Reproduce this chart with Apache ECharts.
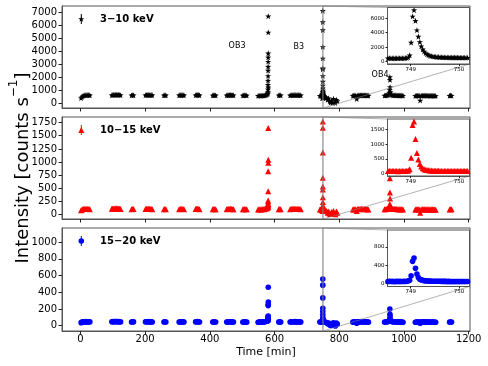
<!DOCTYPE html>
<html><head><meta charset="utf-8">
<script src="https://cdn.jsdelivr.net/npm/echarts@6/dist/echarts.min.js"></script>
<style>html,body{margin:0;padding:0;background:#fff}#c{width:488px;height:366px}</style>
</head><body><div id="c"></div>
<script>
// ---------------- DATA ----------------
const bandLabels = ['3\u221210 keV', '10\u221215 keV', '15\u221220 keV'];
const xTickValues = [0, 200, 400, 600, 800, 1000, 1200];
const yTicks3to10 = [0, 1000, 2000, 3000, 4000, 5000, 6000, 7000];
const yTicks10to15 = [0, 250, 500, 750, 1000, 1250, 1500, 1750];
const yTicks15to20 = [0, 200, 400, 600, 800, 1000];
const insetYTicks3to10 = [0, 2000, 4000, 6000];
const insetYTicks10to15 = [0, 500, 1000, 1500];
const insetYTicks15to20 = [0, 400, 800];
const insetXTicks = [749, 750];
const eventLabels = ['OB3', 'B3', 'OB4'];
const eventTime = [484, 675, 926];
const eventLevel = [4400, 4340, 2210];

// time of each main-panel sample [min]
const timeMin = [
  2,5,8,11,14,17,20,23,26,29,
  97,100,103,106,109,112,115,118,121,124,
  158,161,164,
  201,204,207,210,213,216,219,222,
  258,261,264,
  305,308,311,314,317,320,
  356,359,362,365,368,
  409,412,415,418,
  452,455,458,461,464,467,470,473,
  502,505,508,511,514,
  549,552,555,558,561,564,567,570,573,576,578,
  579.4,579.5,579.6,579.7,579.8,579.9,580.0,580.1,580.2,580.3,580.4,580.5,580.6,580.7,
  613,616,619,
  648,651,654,657,660,663,666,669,672,675,678,681,
  740,743,746,748,
  752,755,758,761,764,767,770,773,776,779,782,785,788,791,794,
  842,845,848,851,854,857,860,863,866,869,872,875,878,881,884,887,890,
  940,943,946,949,952,955,956,956.3,956.6,957,958,961,964,967,970,973,976,979,982,985,988,991,994,997,
  1035,1038,1041,1044,1047,1050,1053,1056,1059,1062,1065,1068,1071,1074,1077,1080,1083,1086,1089,1092,1095,1098,
  1141,1144,1147
];
const rate3to10 = [
  430,520,600,640,655,660,650,665,660,645,
  650,670,680,675,690,685,670,680,665,655,
  640,655,645,
  650,665,660,670,665,655,660,650,
  640,650,645,
  645,660,665,655,660,650,
  650,665,670,660,650,
  635,650,645,640,
  640,655,650,660,665,655,650,645,
  630,645,650,640,635,
  600,615,620,610,625,630,620,640,660,700,740,
  800,900,1100,1450,1770,2130,2540,2840,3220,3550,3860,6700,5460,1250,
  640,655,645,
  640,655,660,650,665,670,660,655,665,660,650,645,
  600,590,580,560,
  580,540,500,450,300,420,180,90,250,60,380,130,40,300,200,
  610,625,630,620,360,635,640,630,645,650,640,635,645,640,630,625,620,
  620,630,640,650,700,850,1050,2050,1830,1270,900,700,650,640,645,650,640,635,640,630,625,630,620,615,
  600,610,620,615,605,250,610,625,620,615,630,625,610,620,615,605,610,620,615,600,605,595,
  610,625,615
];
const rate10to15 = [
  85,100,108,112,110,115,108,112,110,106,
  112,118,115,120,117,122,114,118,112,110,
  105,110,107,
  108,112,110,115,112,110,108,106,
  104,108,106,
  106,110,112,108,110,105,
  107,112,114,110,106,
  103,108,106,104,
  104,108,107,110,112,108,106,104,
  102,106,108,104,103,
  98,102,104,100,106,108,104,112,118,125,135,
  140,150,160,175,190,210,250,270,447,824,987,1647,1043,200,
  104,109,106,
  105,110,112,108,113,115,111,109,112,110,107,105,
  100,98,96,95,
  95,88,80,70,40,60,25,12,50,15,70,30,10,60,40,
  100,104,106,102,70,107,108,105,110,112,108,106,109,107,104,102,100,
  102,105,108,112,125,160,200,692,421,308,180,130,112,108,110,109,107,105,106,104,103,104,102,100,
  98,100,104,102,100,38,101,105,104,102,106,104,100,103,102,99,101,104,102,98,100,97,
  100,104,102
];
const rate15to20 = [
  36,42,46,47,45,48,44,47,46,45,
  46,48,47,50,48,49,46,48,47,45,
  44,46,45,
  45,47,46,48,47,45,46,44,
  44,45,44,
  43,45,47,46,45,44,
  45,47,48,46,44,
  43,45,44,43,
  43,45,44,46,47,45,44,43,
  42,44,45,43,42,
  41,43,44,42,45,46,44,47,50,52,55,
  58,62,66,70,75,82,97,116,110,240,252,460,284,80,
  43,45,44,
  44,46,47,45,47,48,46,45,47,46,45,44,
  44,45,44,46,
  44,42,40,36,22,30,12,3,25,6,35,14,-5,30,20,
  42,44,45,43,30,45,46,44,47,48,46,45,46,45,44,43,42,
  42,44,45,47,52,60,80,200,137,110,70,55,48,46,47,46,45,44,45,44,43,44,42,41,
  41,42,44,43,42,28,43,45,44,43,45,44,42,44,43,41,42,44,43,41,42,40,
  42,44,43
];

// high-cadence samples around the B3 burst (shown in main panels and insets)
const burstTime = [
  748.53,748.56,748.59,748.62,748.65,748.68,748.71,748.74,748.77,748.80,748.83,748.86,748.89,748.92,748.95,
  748.98,749.01,749.04,749.07,749.10,749.13,749.16,749.19,749.22,749.25,
  749.28,749.31,749.34,749.37,749.40,749.43,749.46,749.49,749.52,749.55,
  749.58,749.61,749.64,749.67,749.70,749.73,749.76,749.79,749.82,749.85,
  749.88,749.91,749.94,749.97,750.00,750.03,750.06,750.09,750.12,750.15,
  750.18
];
const burst3to10 = [
  470,480,465,475,470,460,475,470,480,470,465,480,490,520,580,
  880,2640,6250,7120,5640,4350,3470,2720,2130,1700,
  1400,1170,1010,900,820,760,720,690,665,645,
  630,615,605,600,590,585,580,575,575,570,
  565,565,560,560,555,555,550,555,550,545,
  550
];
const burst10to15 = [
  88,92,85,90,87,86,91,84,88,90,86,89,92,96,110,
  150,535,1650,1770,1180,700,480,330,240,180,
  150,130,120,112,106,102,100,98,96,95,
  94,92,93,91,90,92,90,89,90,88,
  89,90,88,87,89,88,86,88,87,86,
  87
];
const burst15to20 = [
  45,48,44,47,46,43,48,45,47,44,46,48,45,50,55,
  70,170,485,557,332,208,130,95,80,70,
  64,60,57,55,53,52,51,50,50,49,
  49,48,48,47,48,47,46,47,46,46,
  45,46,45,45,46,45,44,45,44,45,
  44
];

// ---------------- CHART ----------------
[rate3to10, rate10to15, rate15to20].forEach(a => { if (a.length !== timeMin.length) throw new Error('len main ' + a.length + ' vs ' + timeMin.length); });
[burst3to10, burst10to15, burst15to20].forEach(a => { if (a.length !== burstTime.length) throw new Error('len burst ' + a.length + ' vs ' + burstTime.length); });

const FONT = 'DejaVu Sans';
const plain = v => String(v);
const pairs = (t, v) => t.map((x, i) => [x, v[i]]);
const mainRates = [rate3to10, rate10to15, rate15to20];
const burstRates = [burst3to10, burst10to15, burst15to20];
const yTicks = [yTicks3to10, yTicks10to15, yTicks15to20];
const insetYTicks = [insetYTicks3to10, insetYTicks10to15, insetYTicks15to20];
const colors = ['#000000', '#ff0000', '#0000ff'];
const STAR = 'path://M30,20 L37.05,40.29 L58.53,40.73 L41.41,53.71 L47.63,74.27 L30,62 L12.37,74.27 L18.59,53.71 L1.47,40.73 L22.95,40.29 Z';
const symbols = [STAR, 'triangle', 'circle'];
const symSizes = [[6.2, 5.9], 6, 5.6];

const mainBox = [{top: 6, height: 102}, {top: 117, height: 102}, {top: 228, height: 103}];
const insetBox = [{top: 7.5, height: 56.5}, {top: 119, height: 57}, {top: 230, height: 56.5}];
const ylims = [[-330, 7480], [-81, 1856], [-64, 1169]];
const xlim = [-57, 1204];
const insetXlim = [748.52, 750.22];
const FRAME = '#555';

const grid = [], xAxis = [], yAxis = [], series = [];
for (let i = 0; i < 3; i++) {
  grid.push({left: 62, width: 408, top: mainBox[i].top, height: mainBox[i].height,
    show: true, borderColor: FRAME, borderWidth: 1, backgroundColor: 'transparent', z: 0});
  xAxis.push({type: 'value', gridIndex: i, min: xlim[0], max: xlim[1],
    axisLine: {show: true, onZero: false, lineStyle: {color: FRAME, width: 1}},
    axisTick: {show: true, inside: false, length: 3.5, lineStyle: {color: '#222'}, customValues: xTickValues},
    axisLabel: {show: i === 2, customValues: xTickValues, formatter: plain, fontSize: 10, fontFamily: FONT, color: '#000', margin: 3},
    splitLine: {show: false},
    name: i === 2 ? 'Time [min]' : '', nameLocation: 'middle', nameGap: 16,
    nameTextStyle: {fontSize: 11, fontFamily: FONT, color: '#000'}});
  yAxis.push({type: 'value', gridIndex: i, min: ylims[i][0], max: ylims[i][1],
    axisLine: {show: true, onZero: false, lineStyle: {color: FRAME, width: 1}},
    axisTick: {show: true, inside: false, length: 3.5, lineStyle: {color: '#222'}, customValues: yTicks[i]},
    axisLabel: {show: true, customValues: yTicks[i], formatter: plain, fontSize: 10, fontFamily: FONT, color: '#000', margin: 5},
    splitLine: {show: false}});
  series.push({type: 'scatter', xAxisIndex: i, yAxisIndex: i, z: 2, silent: true,
    symbol: symbols[i], symbolSize: symSizes[i], itemStyle: {color: colors[i], opacity: 1},
    data: pairs(timeMin, mainRates[i]).concat(pairs(burstTime, burstRates[i]))});
}
for (let i = 0; i < 3; i++) {
  const g = 3 + i;
  grid.push({left: 387.5, width: 82, top: insetBox[i].top, height: insetBox[i].height,
    show: true, borderColor: FRAME, borderWidth: 1, backgroundColor: '#ffffff', z: 10});
  xAxis.push({type: 'value', gridIndex: g, min: insetXlim[0], max: insetXlim[1], z: 11,
    axisLine: {show: true, onZero: false, lineStyle: {color: FRAME, width: 1}},
    axisTick: {show: true, inside: false, length: 2, lineStyle: {color: '#222'}, customValues: insetXTicks},
    axisLabel: {show: true, customValues: insetXTicks, formatter: plain, fontSize: 5.5, fontFamily: FONT, color: '#000', margin: 2.5},
    splitLine: {show: false}});
  yAxis.push({type: 'value', gridIndex: g, min: ylims[i][0], max: ylims[i][1], z: 11,
    axisLine: {show: true, onZero: false, lineStyle: {color: FRAME, width: 1}},
    axisTick: {show: true, inside: false, length: 2, lineStyle: {color: '#222'}, customValues: insetYTicks[i]},
    axisLabel: {show: true, customValues: insetYTicks[i], formatter: plain, fontSize: 5.5, fontFamily: FONT, color: '#000', margin: 3},
    splitLine: {show: false}});
  series.push({type: 'scatter', xAxisIndex: g, yAxisIndex: g, z: 12, silent: true, clip: true,
    symbol: symbols[i], symbolSize: symSizes[i], itemStyle: {color: colors[i], opacity: 1},
    data: pairs(burstTime, burstRates[i])});
}

const chart = echarts.init(document.getElementById('c'), null, {renderer: 'canvas', width: 488, height: 366});
chart.setOption({animation: false, backgroundColor: '#ffffff', grid, xAxis, yAxis, series});

// ----- decorations: inset indicators, legends, annotations, y label -----
const graphics = [];
const GREY = 'rgba(128,128,128,0.6)';
for (let i = 0; i < 3; i++) {
  const f = {xAxisIndex: i, yAxisIndex: i};
  const fi = {xAxisIndex: 3 + i, yAxisIndex: 3 + i};
  const tl = chart.convertToPixel(f, [burstTime[0], ylims[i][1]]);
  const br = chart.convertToPixel(f, [burstTime[burstTime.length - 1], ylims[i][0]]);
  const itl = chart.convertToPixel(fi, [insetXlim[0], ylims[i][1]]);
  const ibr = chart.convertToPixel(fi, [insetXlim[1], ylims[i][0]]);
  graphics.push({type: 'rect', z: 5, silent: true,
    shape: {x: tl[0], y: tl[1], width: Math.max(br[0] - tl[0], 0.6), height: br[1] - tl[1]},
    style: {fill: 'none', stroke: GREY, lineWidth: 1}});
  graphics.push({type: 'line', z: 5, silent: true, shape: {x1: tl[0], y1: tl[1], x2: itl[0], y2: itl[1]}, style: {stroke: GREY, lineWidth: 1}});
  graphics.push({type: 'line', z: 5, silent: true, shape: {x1: br[0], y1: br[1], x2: ibr[0], y2: ibr[1]}, style: {stroke: GREY, lineWidth: 1}});

  // legend entry: error-bar marker + bold label
  const cy = mainBox[i].top + 13, cx = 81.3;
  graphics.push({type: 'line', z: 20, silent: true, shape: {x1: cx, y1: cy - 5, x2: cx, y2: cy + 5}, style: {stroke: colors[i], lineWidth: 1}});
  if (i === 0) {
    const pts = [];
    for (let k = 0; k < 10; k++) {
      const a = -Math.PI / 2 + k * Math.PI / 5, r = k % 2 === 0 ? 3.1 : 1.25;
      pts.push([cx + r * Math.cos(a), cy + 0.3 + r * Math.sin(a)]);
    }
    graphics.push({type: 'polygon', z: 20, silent: true, shape: {points: pts}, style: {fill: colors[i]}});
  } else if (i === 1) {
    graphics.push({type: 'polygon', z: 20, silent: true, shape: {points: [[cx, cy - 3], [cx + 3, cy + 3], [cx - 3, cy + 3]]}, style: {fill: colors[i]}});
  } else {
    graphics.push({type: 'circle', z: 20, silent: true, shape: {cx: cx, cy: cy, r: 2.8}, style: {fill: colors[i]}});
  }
  graphics.push({type: 'text', z: 20, silent: true, x: 100, y: cy,
    style: {text: bandLabels[i], font: 'bold 10px "DejaVu Sans"', fill: '#000', verticalAlign: 'middle', align: 'left'}});
}
for (let k = 0; k < eventLabels.length; k++) {
  const p = chart.convertToPixel({xAxisIndex: 0, yAxisIndex: 0}, [eventTime[k], eventLevel[k]]);
  graphics.push({type: 'text', z: 6, silent: true, x: p[0], y: p[1],
    style: {text: eventLabels[k], font: '8px "DejaVu Sans"', fill: '#000', align: 'center', verticalAlign: 'middle'}});
}
graphics.push({type: 'text', z: 20, silent: true, x: 20, y: 168, rotation: Math.PI / 2,
  style: {text: '{m|Intensity [counts s}{s|\u22121}{m|]}', align: 'center', verticalAlign: 'middle',
    rich: {m: {fontSize: 18, fontFamily: FONT, fill: '#000', lineHeight: 24, verticalAlign: 'bottom'},
           s: {fontSize: 12, fontFamily: FONT, fill: '#000', lineHeight: 14, verticalAlign: 'top'}}}});
chart.setOption({graphic: {elements: graphics}});
</script></body></html>
